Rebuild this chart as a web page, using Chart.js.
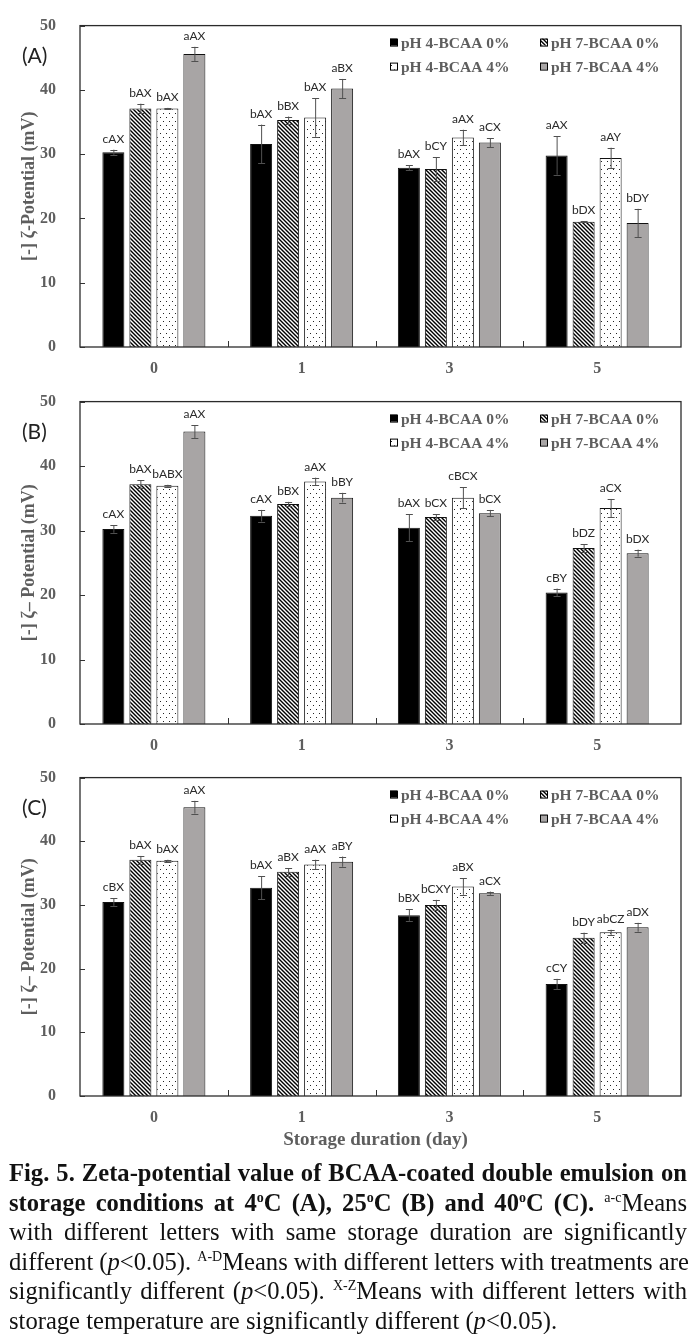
<!DOCTYPE html>
<html>
<head>
<meta charset="utf-8">
<script src="https://cdn.jsdelivr.net/npm/chart.js@4.4.0/dist/chart.umd.min.js"></script>
<style>
  body { margin: 0; background: #fff; width: 698px; height: 1334px; position: relative; overflow: hidden; }
  canvas.panel { position: absolute; left: 0; }
  #caption { position: absolute; left: 9px; top: 1158px; width: 678px;
    font-family: 'Liberation Serif', 'Times New Roman', serif; font-size: 24.6px; line-height: 29.6px; color: #111; }
  #caption div { text-align: justify; text-align-last: justify; white-space: nowrap; }
  #caption div.last { text-align-last: left; }
  #caption sup { font-size: 14px; line-height: 0; vertical-align: 9px; font-weight: normal; }
  #caption b sup { font-weight: bold; }
</style>
</head>
<body>
<canvas class="panel" id="chartA" width="698" height="390" style="top:0"></canvas>
<canvas class="panel" id="chartB" width="698" height="390" style="top:376px"></canvas>
<canvas class="panel" id="chartC" width="698" height="400" style="top:752px"></canvas>

<div id="caption">
  <div><b>Fig. 5. Zeta-potential value of BCAA-coated double emulsion on</b></div>
  <div><b>storage conditions at 4<sup>o</sup>C (A), 25<sup>o</sup>C (B) and 40<sup>o</sup>C (C).</b> <sup>a-c</sup>Means</div>
  <div>with different letters with same storage duration are significantly</div>
  <div>different (<i>p</i>&lt;0.05). <sup>A-D</sup>Means with different letters with treatments are</div>
  <div>significantly different (<i>p</i>&lt;0.05). <sup>X-Z</sup>Means with different letters with</div>
  <div class="last">storage temperature are significantly different (<i>p</i>&lt;0.05).</div>
</div>

<script>
// storage days on the x axis
const days = ['0', '1', '3', '5'];
const seriesNames = ['pH 4-BCAA 0%', 'pH 7-BCAA 0%', 'pH 4-BCAA 4%', 'pH 7-BCAA 4%'];
const yTicks = [0, 10, 20, 30, 40, 50];

// (A) 4°C  -- rows follow seriesNames, columns follow days
const valuesA = [
  [30.3, 31.6, 27.9, 29.8],
  [37.1, 35.3, 27.7, 19.5],
  [37.1, 35.7, 32.6, 29.4],
  [45.6, 40.2, 31.8, 19.3]
];
const errorsA = [
  [0.4, 3.0, 0.4, 3.0],
  [0.75, 0.55, 1.8, 0.1],
  [0.1, 3.0, 1.2, 1.6],
  [1.1, 1.5, 0.7, 2.2]
];
const lettersA = [
  ['cAX', 'bAX', 'bAX', 'aAX'],
  ['bAX', 'bBX', 'bCY', 'bDX'],
  ['bAX', 'bAX', 'aAX', 'aAY'],
  ['aAX', 'aBX', 'aCX', 'bDY']
];

// (B) 25°C
const valuesB = [
  [30.25, 32.3, 30.45, 20.4],
  [37.2, 34.1, 32.1, 27.3],
  [36.95, 37.6, 35.1, 33.5],
  [45.35, 35.1, 32.7, 26.5]
];
const errorsB = [
  [0.6, 0.9, 2.1, 0.6],
  [0.6, 0.35, 0.4, 0.55],
  [0.15, 0.6, 1.6, 1.4],
  [1.0, 0.75, 0.5, 0.55]
];
const lettersB = [
  ['cAX', 'cAX', 'bAX', 'cBY'],
  ['bAX', 'bBX', 'bCX', 'bDZ'],
  ['bABX', 'aAX', 'cBCX', 'aCX'],
  ['aAX', 'bBY', 'bCX', 'bDX']
];

// (C) 40°C
const valuesC = [
  [30.45, 32.7, 28.4, 17.6],
  [37.1, 35.2, 30.0, 24.85],
  [36.95, 36.35, 32.9, 25.7],
  [45.35, 36.8, 31.85, 26.5]
];
const errorsC = [
  [0.6, 1.8, 0.9, 0.8],
  [0.6, 0.6, 0.8, 0.8],
  [0.15, 0.75, 1.3, 0.4],
  [1.0, 0.8, 0.25, 0.7]
];
const lettersC = [
  ['cBX', 'bAX', 'bBX', 'cCY'],
  ['bAX', 'aBX', 'bCXY', 'bDY'],
  ['bAX', 'aAX', 'aBX', 'abCZ'],
  ['aAX', 'aBY', 'aCX', 'aDX']
];

const axisGrey = '#5e5e5e';
const serif = "'Liberation Serif', 'Times New Roman', serif";

// fills: solid black, "\\" hatch, sparse dots, grey
function hatchPattern() {
  const c = document.createElement('canvas');
  c.width = 4; c.height = 4;
  const g = c.getContext('2d');
  g.fillStyle = '#fff'; g.fillRect(0, 0, 4, 4);
  g.strokeStyle = '#000'; g.lineWidth = 1.4;
  g.beginPath();
  g.moveTo(-1, -1); g.lineTo(5, 5);
  g.moveTo(-1, 3); g.lineTo(1, 5);
  g.moveTo(3, -1); g.lineTo(5, 1);
  g.stroke();
  return g.createPattern(c, 'repeat');
}
function dotPattern() {
  const c = document.createElement('canvas');
  c.width = 6; c.height = 8;
  const g = c.getContext('2d');
  g.fillStyle = '#fff'; g.fillRect(0, 0, 6, 8);
  g.fillStyle = '#222';
  g.fillRect(1, 1, 1, 1);
  g.fillRect(4, 5, 1, 1);
  return g.createPattern(c, 'repeat');
}
const fills = ['#000000', hatchPattern(), dotPattern(), '#a8a5a5'];

// frame, inward ticks, error bars, letters, legend and panel tag
const panelExtras = {
  id: 'panelExtras',
  afterDatasetsDraw(chart, args, opts) {
    const { ctx, chartArea: a, scales: { x, y } } = chart;
    ctx.save();

    // error bars + significance letters
    chart.data.datasets.forEach((ds, i) => {
      const meta = chart.getDatasetMeta(i);
      meta.data.forEach((bar, j) => {
        const v = ds.data[j], e = opts.errors[i][j];
        const yTop = y.getPixelForValue(v + e), yBot = y.getPixelForValue(v - e);
        ctx.strokeStyle = '#505050'; ctx.lineWidth = 1;
        ctx.beginPath();
        ctx.moveTo(bar.x + 0.5, yTop); ctx.lineTo(bar.x + 0.5, yBot);
        ctx.moveTo(bar.x - 3, Math.round(yTop) + 0.5); ctx.lineTo(bar.x + 4, Math.round(yTop) + 0.5);
        ctx.moveTo(bar.x - 3, Math.round(yBot) + 0.5); ctx.lineTo(bar.x + 4, Math.round(yBot) + 0.5);
        ctx.stroke();
        ctx.fillStyle = '#2a2a2a';
        ctx.font = "12px Lato, 'Open Sans', sans-serif";
        ctx.textAlign = 'center'; ctx.textBaseline = 'alphabetic';
        ctx.fillText(opts.letters[i][j], bar.x, yTop - 7);
      });
    });

    // frame (runs a little past the last category, like the original)
    ctx.strokeStyle = '#2b2b2b'; ctx.lineWidth = 1.3;
    ctx.strokeRect(a.left, a.top, a.right + 10 - a.left, a.bottom - a.top);

    // inward tick marks
    ctx.lineWidth = 1; ctx.strokeStyle = '#333';
    ctx.beginPath();
    yTicks.forEach(t => {
      const py = Math.round(y.getPixelForValue(t)) + 0.5;
      ctx.moveTo(a.left, py); ctx.lineTo(a.left + 5, py);
    });
    const w = (a.right - a.left) / days.length;
    for (let k = 1; k < days.length; k++) {
      const px = Math.round(a.left + k * w) + 0.5;
      ctx.moveTo(px, a.bottom); ctx.lineTo(px, a.bottom - 6);
    }
    ctx.stroke();

    // legend, two rows x two columns in the top-right corner
    const cols = [a.left + 310, a.left + 460];
    const rows = [a.top + 17, a.top + 41];
    ctx.font = "bold 15.5px " + serif;
    ctx.textAlign = 'left'; ctx.textBaseline = 'middle';
    seriesNames.forEach((name, i) => {
      const lx = cols[i % 2], ly = rows[Math.floor(i / 2)];
      ctx.fillStyle = fills[i];
      ctx.fillRect(lx, ly - 4, 7, 7);
      ctx.strokeStyle = '#000'; ctx.lineWidth = 1;
      ctx.strokeRect(lx + 0.5, ly - 3.5, 7, 7);
      ctx.fillStyle = axisGrey;
      ctx.fillText(name, lx + 11, ly + 1);
    });

    // panel tag (A)/(B)/(C)
    ctx.fillStyle = '#222';
    ctx.font = "21px Lato, 'Open Sans', sans-serif";
    ctx.textAlign = 'left'; ctx.textBaseline = 'middle';
    ctx.fillText(opts.tag, 22, a.top + 31);

    ctx.restore();
  }
};

function makePanel(id, tag, values, errors, letters, yTitle, xTitle, topPad, xHeight) {
  const datasets = seriesNames.map((name, i) => ({
    label: name,
    data: values[i],
    backgroundColor: fills[i],
    borderColor: '#111',
    borderWidth: 1,
    categoryPercentage: 0.731,
    barPercentage: 0.815
  }));

  new Chart(document.getElementById(id), {
    type: 'bar',
    data: { labels: days, datasets },
    options: {
      responsive: false,
      animation: false,
      layout: { padding: { top: topPad, right: 27, left: 0, bottom: 0 } },
      plugins: {
        legend: { display: false },
        tooltip: { enabled: false },
        panelExtras: { tag, errors, letters }
      },
      scales: {
        x: {
          grid: { display: false },
          border: { display: false },
          ticks: { color: axisGrey, font: { family: serif, size: 16, weight: 'bold' }, padding: 4 },
          title: {
            display: !!xTitle,
            text: xTitle || '',
            color: axisGrey,
            font: { family: serif, size: 19, weight: 'bold' },
            padding: { top: 0, bottom: 1 }
          },
          afterFit: s => { s.height = xHeight; }
        },
        y: {
          min: 0, max: 50,
          grid: { display: false },
          border: { display: false },
          ticks: { stepSize: 10, color: axisGrey, font: { family: serif, size: 16, weight: 'bold' }, padding: 16 },
          title: {
            display: true,
            text: yTitle,
            color: axisGrey,
            font: { family: serif, size: 18, weight: 'bold' },
            padding: { top: 19, bottom: 0 }
          },
          afterFit: s => { s.width = 80; }
        }
      }
    },
    plugins: [panelExtras]
  });
}

makePanel('chartA', '(A)', valuesA, errorsA, lettersA, '[-] ζ-Potential (mV)', null, 19, 43);
makePanel('chartB', '(B)', valuesB, errorsB, lettersB, '[-] ζ– Potential (mV)', null, 19, 42);
makePanel('chartC', '(C)', valuesC, errorsC, lettersC, '[-] ζ– Potential (mV)', 'Storage duration (day)', 18, 56);
</script>
</body>
</html>
